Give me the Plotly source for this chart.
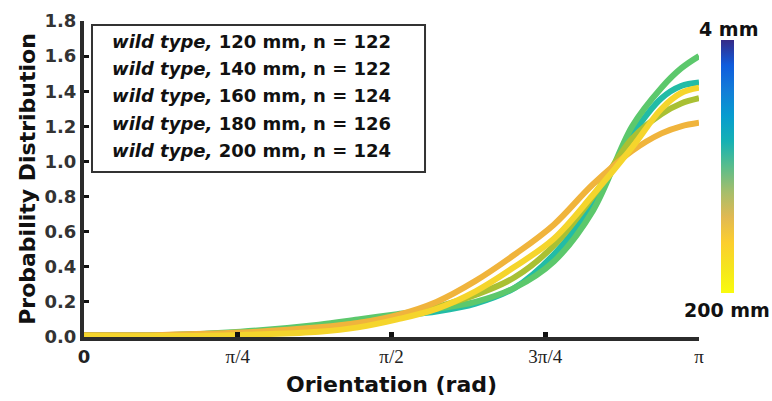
import numpy as np
import plotly.graph_objects as go

# Orientation grid (rad) shared by all curves
orientation = [0.0, 0.4, 0.8, 1.2, 1.4, 1.6, 1.8, 2.0, 2.2, 2.4, 2.6, 2.8, 2.95, 3.05, np.pi]

# Probability distribution per fish length
pd_120 = [0.01, 0.010, 0.025, 0.060, 0.090, 0.120, 0.145, 0.190, 0.280, 0.470, 0.760, 1.150, 1.360, 1.430, 1.450]
pd_140 = [0.01, 0.010, 0.030, 0.070, 0.100, 0.130, 0.160, 0.200, 0.280, 0.430, 0.720, 1.200, 1.420, 1.530, 1.600]
pd_160 = [0.01, 0.008, 0.020, 0.050, 0.080, 0.115, 0.170, 0.240, 0.340, 0.520, 0.800, 1.130, 1.270, 1.330, 1.360]
pd_180 = [0.01, 0.012, 0.025, 0.055, 0.080, 0.125, 0.200, 0.320, 0.470, 0.640, 0.870, 1.060, 1.160, 1.200, 1.220]
pd_200 = [0.005, 0.005, 0.012, 0.030, 0.055, 0.100, 0.160, 0.260, 0.400, 0.560, 0.810, 1.080, 1.300, 1.390, 1.420]

lengths_mm = [120, 140, 160, 180, 200]
sample_n = [122, 122, 124, 126, 124]
series = [pd_120, pd_140, pd_160, pd_180, pd_200]
line_colors = ["#22bca6", "#5cc86c", "#a9c033", "#f0b43c", "#f5d52c"]

# colour bar limits (mm)
scale_min_mm, scale_max_mm = 4, 200

x_tickvals = [0, np.pi / 4, np.pi / 2, 3 * np.pi / 4, np.pi]
x_ticktext = ["0", "π/4", "π/2", "3π/4", "π"]
y_tickvals = [0.0, 0.2, 0.4, 0.6, 0.8, 1.0, 1.2, 1.4, 1.6, 1.8]

parula = [
    [0.0, "#352a87"], [0.1, "#0f5cdd"], [0.2, "#127dd8"], [0.3, "#079ccf"],
    [0.4, "#15b1b4"], [0.5, "#59bd8c"], [0.6, "#a5be6b"], [0.7, "#e1b952"],
    [0.8, "#fcce2e"], [0.9, "#f5e51d"], [1.0, "#f9fb0e"],
]

AX = "#2b2b2b"
BOLD = "DejaVu Sans"

fig = go.Figure()
for ys, col in zip(series, line_colors):
    fig.add_trace(go.Scatter(
        x=orientation, y=ys, mode="lines",
        line=dict(color=col, width=6, shape="spline", smoothing=1.0),
        showlegend=False, hoverinfo="skip",
    ))

# colour bar for fish length
fig.add_trace(go.Scatter(
    x=[None, None], y=[None, None], mode="markers", showlegend=False, hoverinfo="skip",
    marker=dict(
        color=[scale_min_mm, scale_max_mm], cmin=scale_min_mm, cmax=scale_max_mm,
        colorscale=parula, reversescale=True, showscale=True,
        colorbar=dict(
            xref="paper", yref="paper", x=(721 - 84) / 615, xanchor="left",
            y=(337 - 293) / 316, yanchor="bottom", lenmode="pixels", len=253,
            thickness=13, xpad=0, ypad=0, outlinewidth=0,
            showticklabels=False, ticks="",
        ),
    ),
))

serif = '<span style="font-family:Liberation Serif;font-weight:normal;font-size:19px">{}</span>'
ticktext = ["<b>0</b>"] + [serif.format(t) for t in x_ticktext[1:]]

fig.update_layout(
    width=772, height=401,
    margin=dict(l=84, r=73, t=21, b=64, autoexpand=False),
    paper_bgcolor="white", plot_bgcolor="white",
    font=dict(family=BOLD, color="#222"),
    xaxis=dict(
        range=[0, np.pi], showgrid=False, zeroline=False, automargin=False,
        showline=True, linecolor=AX, linewidth=4,
        tickvals=x_tickvals, ticktext=ticktext,
        ticks="inside", ticklen=5, tickwidth=5, tickcolor="#111",
        tickfont=dict(family=BOLD, size=18, color="#222"),
        title=dict(text="<b>Orientation (rad)</b>", font=dict(size=22, family=BOLD, color="#111"), standoff=12),
    ),
    yaxis=dict(
        range=[0, 1.8], showgrid=False, zeroline=False, automargin=False,
        showline=True, linecolor=AX, linewidth=4,
        tickvals=y_tickvals, ticktext=[f"<b>{v:.1f}</b>" for v in y_tickvals],
        ticks="inside", ticklen=5, tickwidth=3, tickcolor="#111",
        tickfont=dict(family=BOLD, size=18, color="#333"),
        title=dict(text="<b>Probability Distribution</b>", font=dict(size=22, family=BOLD, color="#111"), standoff=4),
    ),
)

# label box listing each group
fig.add_shape(type="rect", xref="paper", yref="paper",
              x0=0.013, x1=0.5545, y0=0.522, y1=0.987,
              line=dict(color="#333", width=2), fillcolor="white")
line_y = [0.935, 0.85, 0.765, 0.676, 0.59]
for L, n, yy in zip(lengths_mm, sample_n, line_y):
    fig.add_annotation(
        xref="paper", yref="paper", x=0.0423, y=yy, xanchor="left", yanchor="middle",
        text=f"<b><i>wild type,</i> {L} mm, n = {n}</b>", showarrow=False,
        font=dict(family=BOLD, size=18, color="#111"),
    )

# colour bar end labels
fig.add_annotation(xref="paper", yref="paper", x=(728 - 84) / 615, y=(337 - 29) / 316,
                   xanchor="center", yanchor="middle",
                   text=f"<b>{scale_min_mm} mm</b>", showarrow=False,
                   font=dict(family=BOLD, size=19, color="#111"))
fig.add_annotation(xref="paper", yref="paper", x=(727 - 84) / 615, y=(337 - 310) / 316,
                   xanchor="center", yanchor="middle",
                   text=f"<b>{scale_max_mm} mm</b>", showarrow=False,
                   font=dict(family=BOLD, size=19, color="#111"))

fig.write_html("out.html")
